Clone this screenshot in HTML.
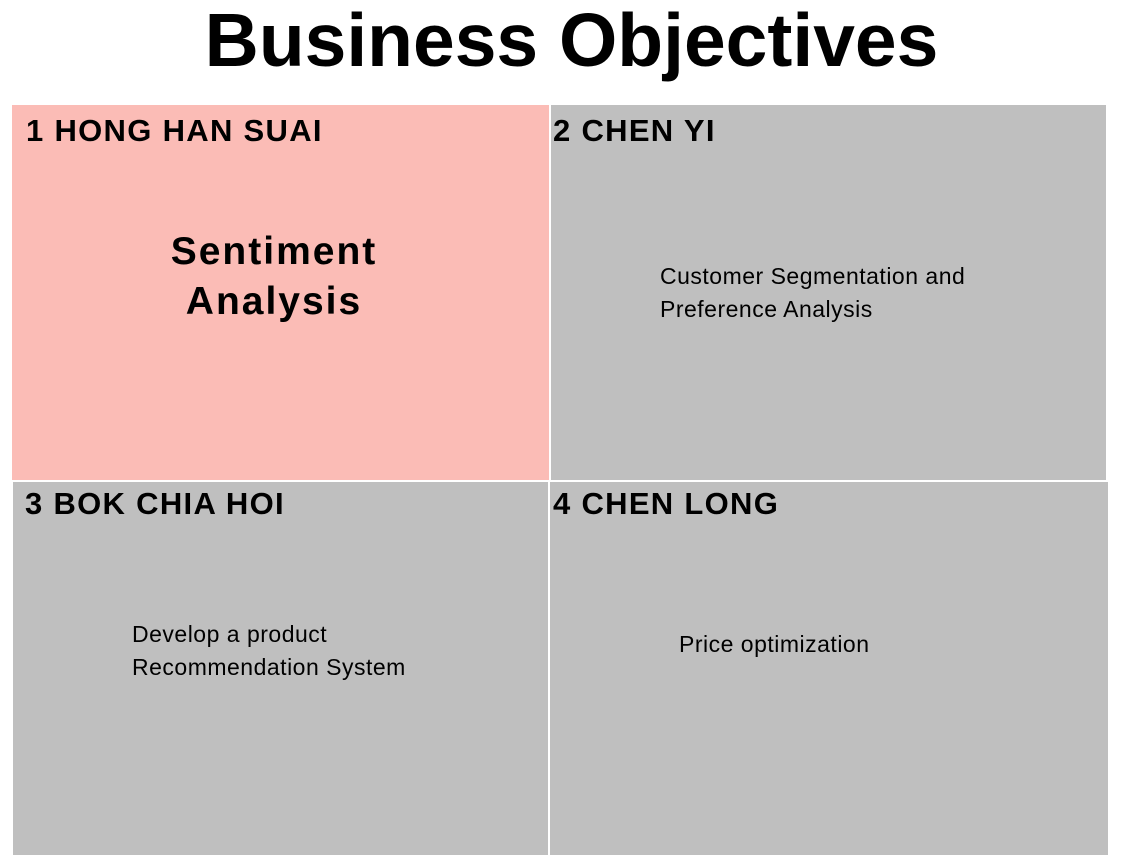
<!DOCTYPE html>
<html><head><meta charset="utf-8"><style>
body{margin:0;width:1123px;height:865px;background:#fff;position:relative;overflow:hidden;font-family:"Liberation Sans",Arial,sans-serif;}
.t{position:absolute;left:10px;width:1123px;top:-3px;text-align:center;font-weight:bold;font-size:75px;color:#000;}
.q{position:absolute;}
.h{position:absolute;font-weight:bold;font-size:31px;letter-spacing:1.3px;white-space:nowrap;}
.n{position:absolute;font-size:23px;letter-spacing:0.5px;line-height:33px;white-space:nowrap;}
</style></head><body>
<div class="t">Business Objectives</div>
<div class="q" style="left:12px;top:105px;width:537px;height:375px;background:#fbbcb6;">
 <div class="h" style="left:14px;top:8px;">1 HONG HAN SUAI</div>
 <div style="position:absolute;left:62px;width:400px;top:122px;text-align:center;font-weight:bold;font-size:39px;letter-spacing:2px;line-height:50px;">Sentiment<br>Analysis</div>
</div>
<div class="q" style="left:551px;top:105px;width:555px;height:375px;background:#bfbfbf;">
 <div class="h" style="left:2px;top:8px;">2 CHEN YI</div>
 <div class="n" style="left:109px;top:155px;">Customer Segmentation and<br>Preference Analysis</div>
</div>
<div class="q" style="left:13px;top:482px;width:535px;height:373px;background:#bfbfbf;">
 <div class="h" style="left:12px;top:4px;">3 BOK CHIA HOI</div>
 <div class="n" style="left:119px;top:136px;">Develop a product<br>Recommendation System</div>
</div>
<div class="q" style="left:550px;top:482px;width:558px;height:373px;background:#bfbfbf;">
 <div class="h" style="left:3px;top:4px;">4 CHEN LONG</div>
 <div class="n" style="left:129px;top:146px;">Price optimization</div>
</div>
</body></html>
